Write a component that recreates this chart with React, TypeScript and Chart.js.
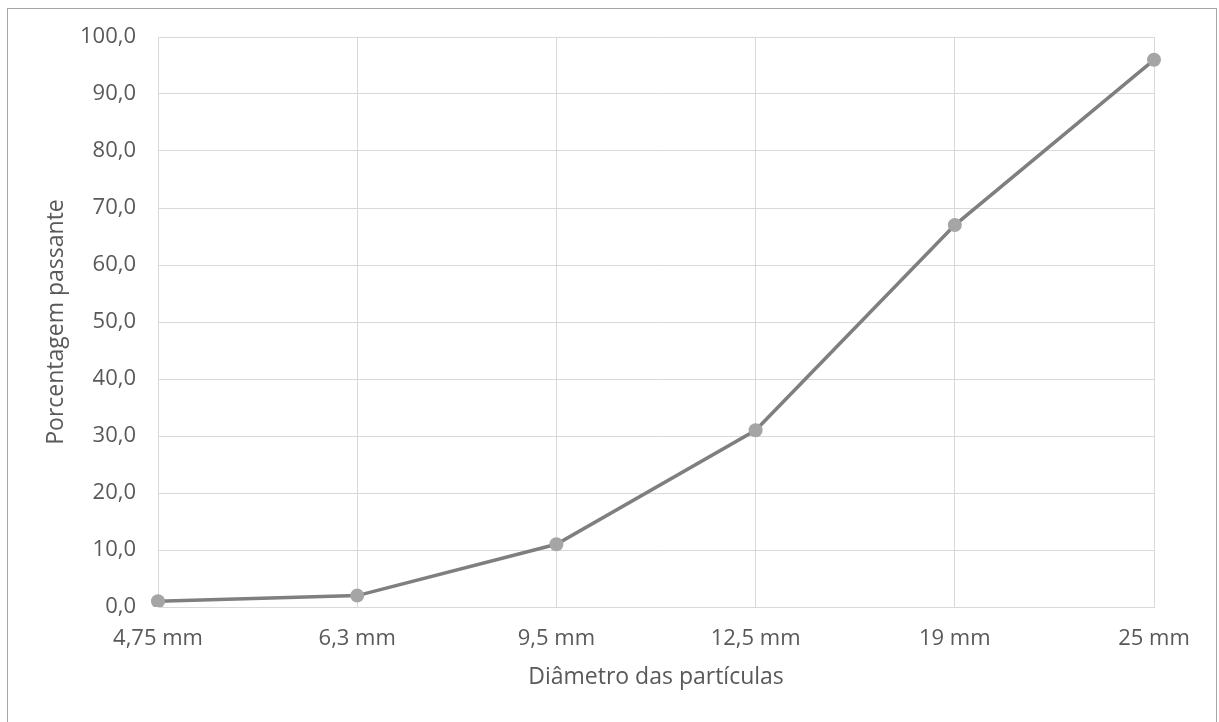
import React, { useEffect, useRef } from "react";
import { Chart, registerables } from "chart.js";

Chart.register(...registerables);

const categories = ["4,75 mm", "6,3 mm", "9,5 mm", "12,5 mm", "19 mm", "25 mm"];
const passingValues = [1.0, 2.0, 11.0, 31.0, 67.0, 96.0];
const yTicks = [0, 10, 20, 30, 40, 50, 60, 70, 80, 90, 100];
const xTitle = "Diâmetro das partículas";
const yTitle = "Porcentagem passante";

const FONT = "'Open Sans', sans-serif";
const TEXT = "#595959";
const GRID = "#d9d9d9";

export default function App() {
  const ref = useRef<HTMLCanvasElement | null>(null);

  useEffect(() => {
    if (!ref.current) return;
    const chart = new Chart(ref.current, {
      type: "line",
      data: {
        labels: categories,
        datasets: [
          {
            data: passingValues,
            borderColor: "#7f7f7f",
            borderWidth: 3.5,
            backgroundColor: "#a5a5a5",
            pointBackgroundColor: "#a5a5a5",
            pointBorderColor: "#a5a5a5",
            pointBorderWidth: 0,
            pointRadius: 7,
            tension: 0,
            fill: false,
          },
        ],
      },
      options: {
        animation: false,
        responsive: false,
        devicePixelRatio: 1,
        layout: { padding: { left: 0, right: 62, top: 28, bottom: 31.2 } },
        plugins: { legend: { display: false }, tooltip: { enabled: false } },
        scales: {
          x: {
            offset: false,
            grid: { color: GRID, lineWidth: 1, drawTicks: false, offset: false },
            border: { color: GRID, width: 1 },
            ticks: {
              color: TEXT,
              font: { family: FONT, size: 22 },
              padding: 18.8,
              maxRotation: 0,
              autoSkip: false,
            },
            title: {
              display: true,
              text: xTitle,
              color: TEXT,
              font: { family: FONT, size: 23 },
              padding: { top: 0, bottom: 0 },
            },
            afterFit: (scale: any) => {
              scale.height = 83.8;
              scale.paddingLeft = 0;
              scale.paddingRight = 0;
            },
          },
          y: {
            min: 0,
            max: 100,
            grid: { color: GRID, lineWidth: 1, drawTicks: false },
            border: { color: GRID, width: 1 },
            afterBuildTicks: (scale: any) => {
              scale.ticks = yTicks.map((v) => ({ value: v }));
            },
            ticks: {
              color: TEXT,
              font: { family: FONT, size: 22 },
              padding: 22,
              callback: (v: any) => Number(v).toFixed(1).replace(".", ","),
            },
            title: {
              display: true,
              text: yTitle,
              color: TEXT,
              font: { family: FONT, size: 23 },
              padding: { top: 35, bottom: 0 },
            },
            afterFit: (scale: any) => {
              scale.width = 150;
              scale.paddingTop = 0;
              scale.paddingBottom = 0;
            },
          },
        },
      },
    });
    return () => chart.destroy();
  }, []);

  return (
    <div
      style={{
        position: "fixed",
        left: 7,
        top: 8,
        width: 1210,
        height: 740,
        boxSizing: "border-box",
        border: "1px solid #a6a6a6",
        background: "#fff",
      }}
    >
      <canvas ref={ref} width={1208} height={713} style={{ display: "block" }} />
    </div>
  );
}
